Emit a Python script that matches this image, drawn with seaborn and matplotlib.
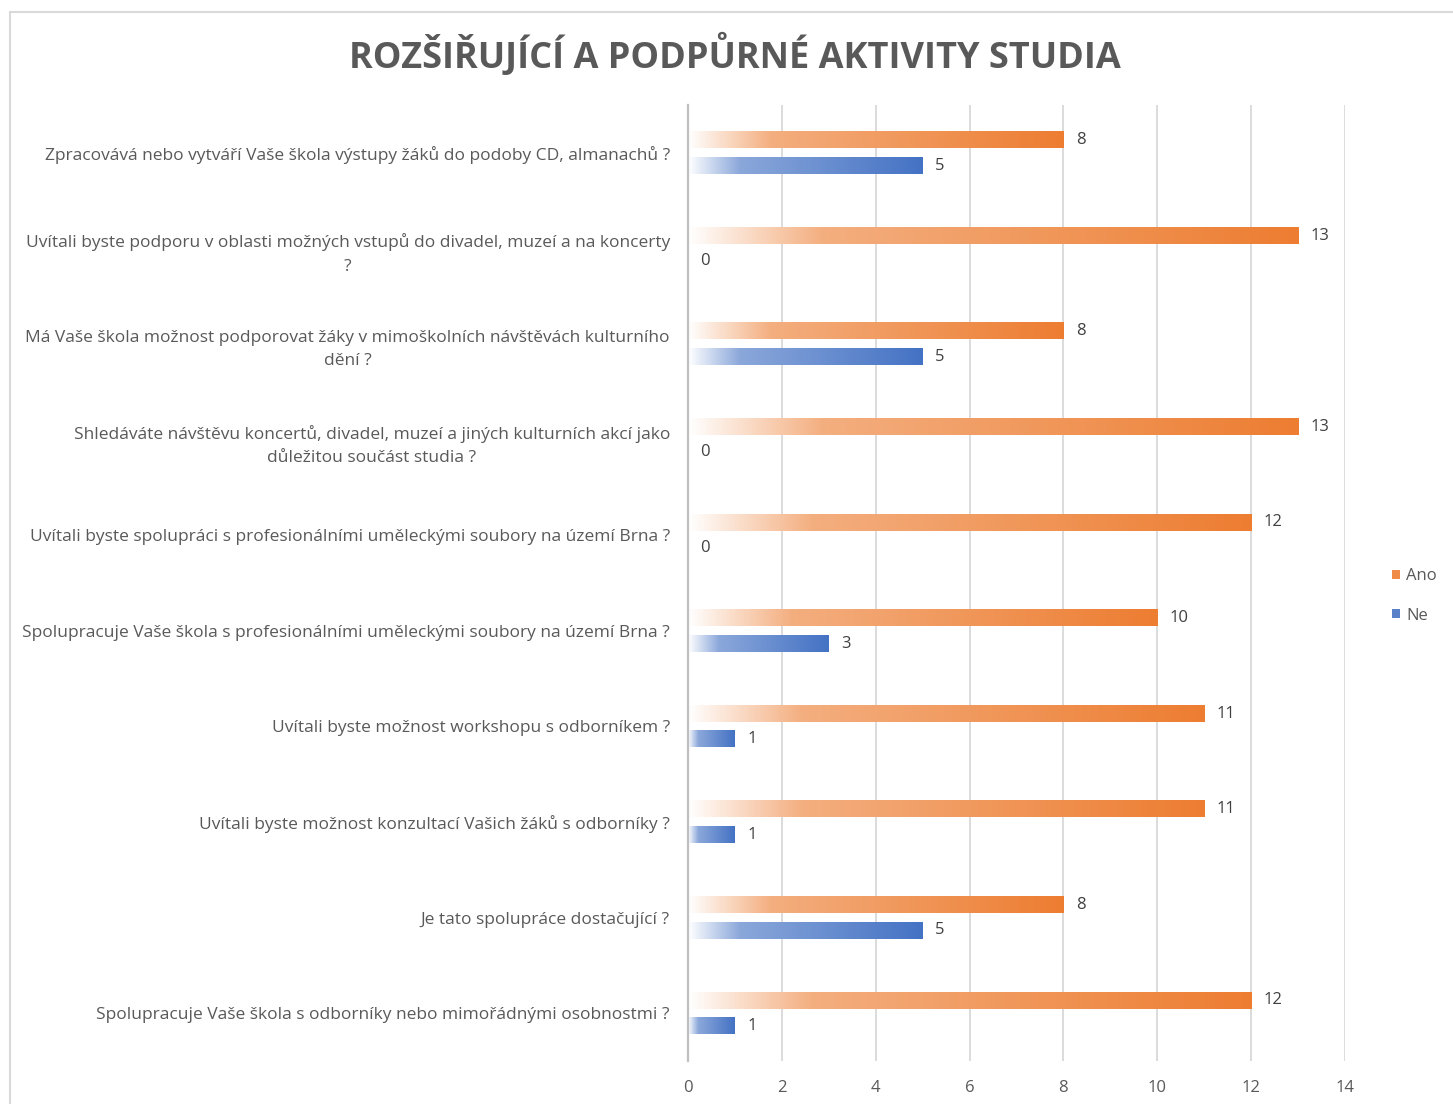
import numpy as np
import pandas as pd
import matplotlib
matplotlib.use("Agg")
import matplotlib.pyplot as plt
import seaborn as sns
from matplotlib.patches import Rectangle, Patch
from matplotlib.colors import to_rgb

title = "ROZŠIŘUJÍCÍ A PODPŮRNÉ AKTIVITY STUDIA"
questions = [
    "Zpracovává nebo vytváří Vaše škola výstupy žáků do podoby CD, almanachů ?",
    "Uvítali byste podporu v oblasti možných vstupů do divadel, muzeí a na koncerty\n?",
    "Má Vaše škola možnost podporovat žáky v mimoškolních návštěvách kulturního\ndění ?",
    "Shledáváte návštěvu koncertů, divadel, muzeí a jiných kulturních akcí jako\ndůležitou součást studia ?",
    "Uvítali byste spolupráci s profesionálními uměleckými soubory na území Brna ?",
    "Spolupracuje Vaše škola s profesionálními uměleckými soubory na území Brna ?",
    "Uvítali byste možnost workshopu s odborníkem ?",
    "Uvítali byste možnost konzultací Vašich žáků s odborníky ?",
    "Je tato spolupráce dostačující ?",
    "Spolupracuje Vaše škola s odborníky nebo mimořádnými osobnostmi ?",
]
ano = [8, 13, 8, 13, 12, 10, 11, 11, 8, 12]
ne = [5, 0, 5, 0, 0, 3, 1, 1, 5, 1]
series = ["Ano", "Ne"]
colors = {"Ano": "#ED7D31", "Ne": "#4472C4"}
xticks = [0, 2, 4, 6, 8, 10, 12, 14]

df = pd.DataFrame({
    "otazka": questions * 2,
    "odpoved": ["Ano"] * len(ano) + ["Ne"] * len(ne),
    "pocet": ano + ne,
})

sns.set_theme(style="white")
plt.rcParams["font.family"] = ["Open Sans", "DejaVu Sans"]
TXT = "#595959"

W, H = 1453, 1104
fig = plt.figure(figsize=(W / 100, H / 100), dpi=100)
ax = fig.add_axes([688 / W, 1 - 1061 / H, (1345 - 688) / W, (1061 - 105) / H])

sns.barplot(data=df, y="otazka", x="pocet", hue="odpoved", order=questions,
            hue_order=series, palette=colors, orient="h", width=0.535, gap=0.36,
            errorbar=None, legend=False, ax=ax)


def gradient(color, n=256):
    c = np.array(to_rgb(color))
    t = np.linspace(0, 1, n)
    m = np.where(t < 0.22, 0.62 * t / 0.22, 0.62 + 0.38 * (t - 0.22) / 0.78)
    rgb = (1 - m)[:, None] * np.ones(3) + m[:, None] * c
    return rgb[None, :, :]


for cont, name in zip(ax.containers, series):
    grad = gradient(colors[name])
    for bar in cont:
        x, y = bar.get_x(), bar.get_y()
        w, h = bar.get_width(), bar.get_height()
        bar.set_facecolor("none")
        bar.set_edgecolor("none")
        if w > 0:
            ax.imshow(grad, extent=[x, x + w, y + h, y], aspect="auto",
                      interpolation="bilinear", zorder=2)
    labels = ax.bar_label(cont, padding=9, fontsize=12, color="#404040")
    for t in labels:
        t.set_va("center")
        t.set_y(t.get_position()[1])

ax.set_xlim(0, 14)
ax.set_ylim(len(questions) - 0.5, -0.5)
ax.set_xticks(xticks)
ax.set_xlabel("")
ax.set_ylabel("")
ax.grid(axis="x", color="#D9D9D9", lw=1.3)
ax.grid(axis="y", visible=False)
ax.set_axisbelow(True)
for s in ["top", "right", "bottom"]:
    ax.spines[s].set_visible(False)
ax.spines["left"].set_color("#BFBFBF")
ax.spines["left"].set_linewidth(1.6)
ax.tick_params(axis="y", length=0, pad=13, labelsize=12.5, labelcolor=TXT)
ax.tick_params(axis="x", length=0, pad=14, labelsize=12, labelcolor=TXT)
for lbl in ax.get_yticklabels():
    lbl.set_multialignment("center")
    lbl.set_linespacing(1.6)

fig.text(735 / W, 1 - 55 / H, title, ha="center", va="center",
         fontsize=26, fontweight="bold", color=TXT)

handles = [Patch(facecolor=gradient(colors[s])[0, 200], edgecolor="none") for s in series]
fig.legend(handles, series, loc="center left",
           bbox_to_anchor=(1377 / W, 1 - 596 / H), frameon=False,
           handlelength=0.5, handleheight=0.5, handletextpad=0.35,
           labelspacing=1.4, fontsize=12, labelcolor=TXT)

fig.add_artist(Rectangle((10 / W, -0.1), 1.2, 1 - 12 / H + 0.1,
                         transform=fig.transFigure, fill=False,
                         edgecolor="#D9D9D9", lw=1.5))

fig.savefig("out.png", dpi=100)
